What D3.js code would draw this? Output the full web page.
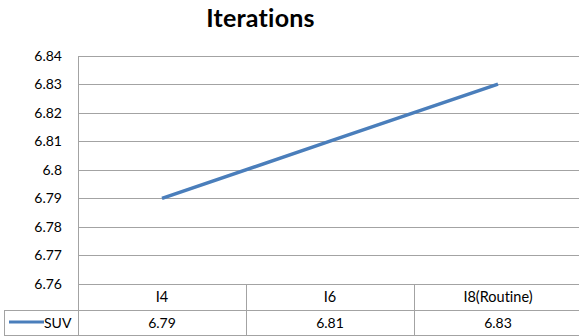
<!DOCTYPE html>
<html>
<head>
<meta charset="utf-8">
<script src="https://cdn.jsdelivr.net/npm/d3@7/dist/d3.min.js"></script>
<style>
  html, body { margin: 0; padding: 0; background: #fff; }
  svg { display: block; }
  text { font-family: Lato, "Open Sans", sans-serif; fill: #000; font-variant-ligatures: none; font-feature-settings: "liga" 0, "clig" 0; }
</style>
</head>
<body>
<svg id="chart" width="579" height="336"></svg>
<script>
// Chart data
const title = "Iterations";
const categories = ["I4", "I6", "I8(Routine)"];
const seriesName = "SUV";
const suvValues = [6.79, 6.81, 6.83];
const yTicks = [6.76, 6.77, 6.78, 6.79, 6.80, 6.81, 6.82, 6.83, 6.84];
const yTickLabels = ["6.76", "6.77", "6.78", "6.79", "6.8", "6.81", "6.82", "6.83", "6.84"];

const svg = d3.select("#chart");
const gridColor = "#a3a3a3";
const lineColor = "#4a7ebb";

const plotLeft = 78, plotRight = 582;
const plotTop = 55.5, plotBottom = 284;
const rowMid = 310, tableBottom = 335;
const legendLeft = 4;

const x = d3.scaleBand().domain(categories).range([plotLeft, plotRight]).padding(0);
const y = d3.scaleLinear().domain([6.76, 6.84]).range([plotBottom, plotTop]);

const crisp = v => Math.round(v) + 0.5;

// Title (slight letter spacing keeps "t"+"i" as separate glyphs)
svg.append("text")
  .attr("x", 260.5).attr("y", 27)
  .attr("text-anchor", "middle")
  .style("font-size", "25px").style("font-weight", "bold")
  .style("letter-spacing", "0.2px")
  .text(title);

// Horizontal gridlines
svg.append("g").selectAll("line").data(yTicks).join("line")
  .attr("x1", plotLeft).attr("x2", plotRight)
  .attr("y1", d => crisp(y(d))).attr("y2", d => crisp(y(d)))
  .attr("stroke", gridColor).attr("stroke-width", 1);

// Y tick labels
svg.append("g").selectAll("text").data(yTicks).join("text")
  .attr("x", 62).attr("y", d => y(d) + 5)
  .attr("text-anchor", "end")
  .style("font-size", "14px")
  .text((d, i) => yTickLabels[i]);

// Vertical axis line, continuing down through the data table
svg.append("line")
  .attr("x1", crisp(plotLeft)).attr("x2", crisp(plotLeft))
  .attr("y1", crisp(plotTop)).attr("y2", crisp(tableBottom))
  .attr("stroke", gridColor);

// Data table grid
const tableLines = svg.append("g").attr("stroke", gridColor).attr("stroke-width", 1);
categories.forEach(c => {
  const xr = crisp(x(c) + x.bandwidth());
  tableLines.append("line").attr("x1", xr).attr("x2", xr)
    .attr("y1", crisp(plotBottom)).attr("y2", crisp(tableBottom));
});
tableLines.append("line").attr("x1", legendLeft).attr("x2", plotRight)
  .attr("y1", crisp(rowMid)).attr("y2", crisp(rowMid));
tableLines.append("line").attr("x1", legendLeft).attr("x2", plotRight)
  .attr("y1", crisp(tableBottom)).attr("y2", crisp(tableBottom));
tableLines.append("line").attr("x1", crisp(legendLeft)).attr("x2", crisp(legendLeft))
  .attr("y1", crisp(rowMid)).attr("y2", crisp(tableBottom));

// Category row
svg.append("g").selectAll("text").data(categories).join("text")
  .attr("x", d => x(d) + x.bandwidth() / 2)
  .attr("y", 302)
  .attr("text-anchor", "middle")
  .style("font-size", "14.5px")
  .text(d => d);

// Value row
svg.append("g").selectAll("text").data(suvValues).join("text")
  .attr("x", (d, i) => x(categories[i]) + x.bandwidth() / 2)
  .attr("y", 328)
  .attr("text-anchor", "middle")
  .style("font-size", "14px")
  .text(d => d.toFixed(2));

// Legend key in the table row header
svg.append("line")
  .attr("x1", 9).attr("x2", 44)
  .attr("y1", 322).attr("y2", 322)
  .attr("stroke", lineColor).attr("stroke-width", 3);
svg.append("text")
  .attr("x", 44).attr("y", 328)
  .style("font-size", "14px")
  .text(seriesName);

// SUV line
const line = d3.line()
  .x((d, i) => x(categories[i]) + x.bandwidth() / 2)
  .y(d => y(d));
svg.append("path")
  .datum(suvValues)
  .attr("d", line)
  .attr("fill", "none")
  .attr("stroke", lineColor)
  .attr("stroke-width", 3.5)
  .attr("stroke-linecap", "butt");
</script>
</body>
</html>
